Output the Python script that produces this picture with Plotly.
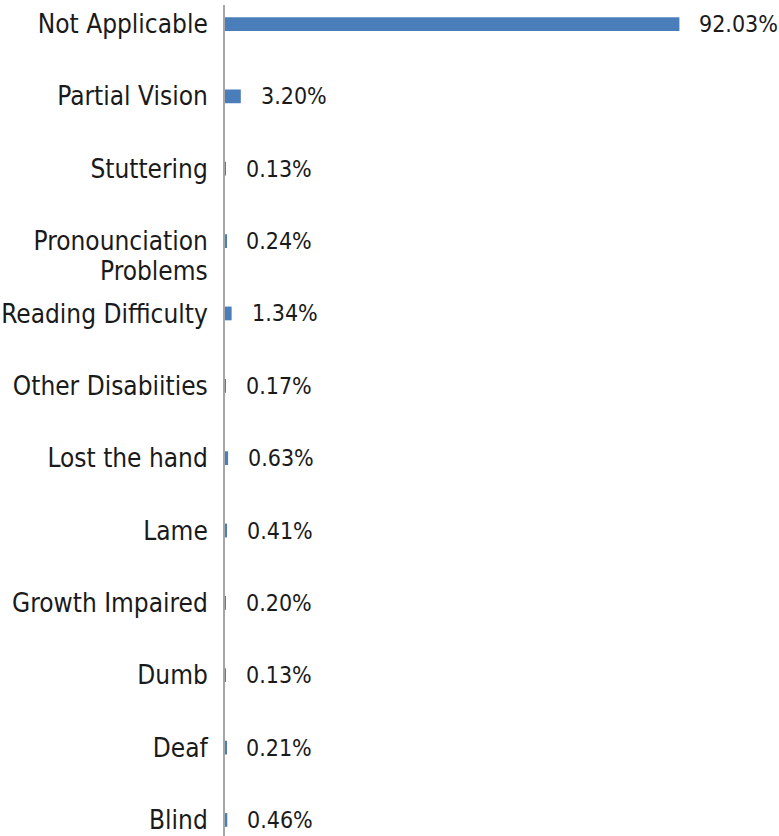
import plotly.graph_objects as go

# Disability categories, listed bottom to top as drawn on the y axis
categories = [
    "Blind", "Deaf", "Dumb", "Growth Impaired", "Lame", "Lost the hand",
    "Other Disabiities", "Reading Difficulty", "Pronounciation", "Stuttering",
    "Partial Vision", "Not Applicable",
]
shares = [0.46, 0.21, 0.13, 0.20, 0.41, 0.63, 0.17, 1.34, 0.24, 0.13, 3.20, 92.03]
label_font = "DejaVu Sans Condensed, Liberation Sans Narrow, Arial Narrow, sans-serif"

positions = list(range(len(categories)))

fig = go.Figure(
    go.Bar(
        x=shares,
        y=positions,
        orientation="h",
        marker=dict(color="#4a7ebb", line=dict(width=0)),
        width=0.19,
        hoverinfo="skip",
    )
)

# Percentage labels just past each bar end
for pos, val in zip(positions, shares):
    fig.add_annotation(
        x=val, y=pos, xref="x", yref="y",
        text=f"{val:.2f}%", showarrow=False,
        xanchor="left", yanchor="middle", xshift=18,
        font=dict(family=label_font, size=23, color="#1a1a1a"),
    )

# Second line of the wrapped "Pronounciation Problems" label
fig.add_annotation(
    x=0, y=categories.index("Pronounciation"), xref="paper", yref="y",
    text="Problems", showarrow=False,
    xanchor="right", yanchor="middle", xshift=-15, yshift=-30,
    font=dict(family=label_font, size=26, color="#1a1a1a"),
)

fig.update_layout(
    width=779, height=836,
    margin=dict(l=225, r=0, t=5, b=0),
    paper_bgcolor="white", plot_bgcolor="white",
    showlegend=False,
    xaxis=dict(range=[0, 112.2], visible=False, fixedrange=True),
    yaxis=dict(
        range=[-0.2216, 11.2626],
        tickmode="array", tickvals=positions, ticktext=categories,
        showline=True, linecolor="#a6a6a6", linewidth=2,
        showgrid=False, zeroline=False, ticks="",
        ticklabelstandoff=10, ticklabeloverflow="allow",
        automargin=False,
        tickfont=dict(family=label_font, size=26, color="#1a1a1a"),
        fixedrange=True,
    ),
)

fig.write_html("out.html")
